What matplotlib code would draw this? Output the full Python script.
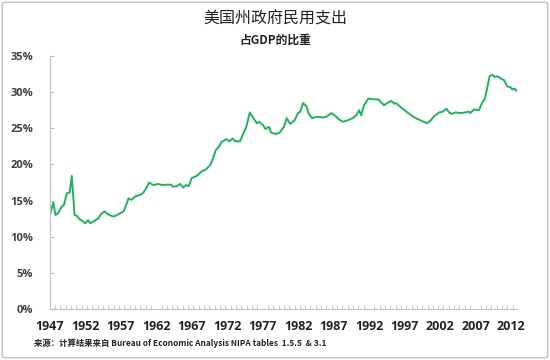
import matplotlib
matplotlib.use("Agg")
import matplotlib.pyplot as plt
from matplotlib.patches import FancyBboxPatch
from matplotlib.ticker import MultipleLocator, FuncFormatter
import numpy as np

# ---- data ----
years = [1947.0, 1947.5, 1947.8, 1948.2, 1948.7, 1949.0, 1949.4, 1949.8, 1950.1, 1950.5,
         1950.8, 1951.2, 1951.6, 1952.0, 1952.4, 1952.7, 1953.3, 1953.8, 1954.2, 1954.7,
         1955.2, 1955.9, 1956.3, 1957.0, 1957.4, 1957.7, 1958.1, 1958.5, 1959.1, 1959.8,
         1960.2, 1960.7, 1961.0, 1961.6, 1962.3, 1962.8, 1963.5, 1964.1, 1964.4, 1964.9,
         1965.4, 1965.8, 1966.2, 1966.6, 1967.0, 1967.7, 1968.5, 1969.0, 1969.6, 1970.0,
         1970.4, 1970.9, 1971.2, 1971.9, 1972.3, 1972.8, 1973.1, 1973.8, 1974.2, 1974.7,
         1975.2, 1975.7, 1976.2, 1976.5, 1977.1, 1977.4, 1977.9, 1978.2, 1978.9, 1979.4,
         1980.0, 1980.4, 1980.9, 1981.5, 1982.0, 1982.3, 1982.7, 1983.2, 1983.5, 1984.0,
         1984.6, 1985.5, 1986.0, 1986.7, 1987.4, 1987.8, 1988.3, 1989.0, 1989.7, 1990.2,
         1990.6, 1990.9, 1991.3, 1991.9, 1992.7, 1993.3, 1994.1, 1995.1, 1995.6, 1995.8,
         1996.5, 1997.4, 1998.1, 1998.8, 1999.5, 2000.2, 2000.7, 2001.2, 2001.9, 2002.4,
         2002.9, 2003.3, 2003.7, 2004.2, 2004.9, 2005.6, 2006.1, 2006.3, 2006.8, 2007.5,
         2007.9, 2008.3, 2008.6, 2009.0, 2009.4, 2009.7, 2010.1, 2010.7, 2011.0, 2011.5,
         2011.9, 2012.2, 2012.5, 2012.75]
share = [13.0, 14.7, 13.0, 13.3, 14.2, 14.4, 16.0, 16.1, 18.4, 13.0,
         12.9, 12.4, 12.2, 11.85, 12.3, 11.85, 12.2, 12.5, 13.1, 13.5,
         13.1, 12.8, 12.9, 13.3, 13.5, 14.2, 15.3, 15.1, 15.6, 15.8,
         16.1, 16.9, 17.5, 17.15, 17.3, 17.15, 17.2, 17.2, 16.9, 17.0,
         17.3, 16.8, 17.15, 17.0, 18.1, 18.4, 19.1, 19.3, 19.9, 20.8,
         22.0, 22.5, 23.1, 23.5, 23.2, 23.6, 23.2, 23.2, 24.1, 25.2,
         27.2, 26.4, 25.7, 25.9, 25.4, 24.9, 25.2, 24.4, 24.2, 24.4,
         25.2, 26.4, 25.6, 26.1, 27.1, 27.3, 28.5, 28.0, 27.0, 26.4,
         26.6, 26.5, 26.6, 27.1, 26.6, 26.2, 25.9, 26.1, 26.4, 26.8,
         27.5, 26.8, 28.2, 29.1, 29.0, 29.0, 28.2, 28.8, 28.4, 28.5,
         27.9, 27.2, 26.7, 26.3, 26.0, 25.7, 26.1, 26.7, 27.2, 27.3,
         27.7, 27.2, 27.0, 27.2, 27.1, 27.2, 27.3, 27.1, 27.6, 27.5,
         28.45, 29.0, 30.3, 32.2, 32.4, 32.1, 32.2, 31.8, 31.7, 30.8,
         30.7, 30.4, 30.5, 30.2]
x_labels = [1947, 1952, 1957, 1962, 1967, 1972, 1977, 1982, 1987, 1992, 1997, 2002, 2007, 2012]
y_ticks = [0, 5, 10, 15, 20, 25, 30, 35]

title = "美国州政府民用支出"
subtitle = "占GDP的比重"
source = "来源：计算结果来自 Bureau of Economic Analysis NIPA tables  1.5.5  & 3.1"

cjk = ["Noto Sans CJK SC", "DejaVu Sans"]
plt.rcParams["font.family"] = cjk

fig = plt.figure(figsize=(5.5, 3.6), dpi=100)
fig.patch.set_facecolor("white")

# outer frame
frame = FancyBboxPatch((0.004, 0.006), 0.992, 0.988, boxstyle="round,pad=0,rounding_size=0.005",
                       transform=fig.transFigure, facecolor="none", edgecolor="#b0b0b0", lw=0.8)
fig.patches.append(frame)

ax = fig.add_axes([0.0905, 0.1417, 0.85, 0.7027])
ax.plot(years, share, color="#21b35b", lw=1.4, solid_joinstyle="round")

ax.set_xlim(1947.0, 2012.9)
ax.set_ylim(0, 35)

for s in ["top", "right"]:
    ax.spines[s].set_visible(False)
for s in ["left", "bottom"]:
    ax.spines[s].set_color("#bfbfbf")
    ax.spines[s].set_linewidth(0.8)

ax.set_yticks(y_ticks)
ax.yaxis.set_major_formatter(FuncFormatter(lambda v, p: f"{int(v)}%"))
ax.tick_params(axis="y", direction="in", length=3, color="#bfbfbf", pad=12,
               labelsize=8, labelcolor="#404040")
for lab in ax.get_yticklabels():
    lab.set_fontweight("bold")
    lab.set_family(["Open Sans", "DejaVu Sans"])

ax.set_xticks(x_labels)
ax.set_xticklabels([str(v) for v in x_labels])
ax.xaxis.set_minor_locator(MultipleLocator(0.75))
ax.tick_params(axis="x", which="major", length=0, pad=8, labelsize=9, labelcolor="#222222")
ax.tick_params(axis="x", which="minor", direction="in", length=3, color="#bfbfbf")
for lab in ax.get_xticklabels():
    lab.set_fontweight("bold")
    lab.set_family(["Open Sans", "DejaVu Sans"])

fig.text(0.5, 0.948, title, ha="center", va="center", fontsize=11.5, color="#222222",
         family=cjk, fontweight="normal")
fig.text(0.5, 0.888, subtitle, ha="center", va="center", fontsize=8.5, color="#222222",
         family=cjk, fontweight="bold")
fig.text(0.062, 0.046, source, ha="left", va="center", fontsize=6, color="#222222",
         family=cjk, fontweight="bold")

fig.savefig("out.png", dpi=100, facecolor="white")
